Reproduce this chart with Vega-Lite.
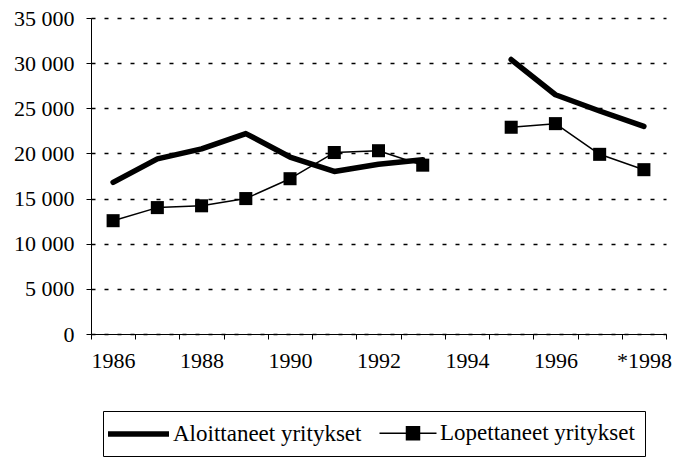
{
  "$schema": "https://vega.github.io/schema/vega-lite/v6.json",
  "width": 575,
  "height": 316,
  "autosize": "none",
  "padding": {"left": 91, "top": 18, "right": 7, "bottom": 125},
  "background": "white",
  "config": {
    "font": "Liberation Serif",
    "view": {"stroke": null},
    "axis": {"labelFont": "Liberation Serif", "labelFontSize": 22, "labelColor": "black", "domainColor": "black", "tickColor": "black", "titleFontSize": 0}
  },
  "data": {
    "values": [
      {"year": "1986", "series": "Aloittaneet yritykset", "value": 16800},
      {"year": "1987", "series": "Aloittaneet yritykset", "value": 19400},
      {"year": "1988", "series": "Aloittaneet yritykset", "value": 20500},
      {"year": "1989", "series": "Aloittaneet yritykset", "value": 22200},
      {"year": "1990", "series": "Aloittaneet yritykset", "value": 19600},
      {"year": "1991", "series": "Aloittaneet yritykset", "value": 18000},
      {"year": "1992", "series": "Aloittaneet yritykset", "value": 18800},
      {"year": "1993", "series": "Aloittaneet yritykset", "value": 19300},
      {"year": "1994", "series": "Aloittaneet yritykset", "value": null},
      {"year": "1995", "series": "Aloittaneet yritykset", "value": 30400},
      {"year": "1996", "series": "Aloittaneet yritykset", "value": 26500},
      {"year": "1997", "series": "Aloittaneet yritykset", "value": 24700},
      {"year": "1998", "series": "Aloittaneet yritykset", "value": 23000},
      {"year": "1986", "series": "Lopettaneet yritykset", "value": 12550},
      {"year": "1987", "series": "Lopettaneet yritykset", "value": 14000},
      {"year": "1988", "series": "Lopettaneet yritykset", "value": 14200},
      {"year": "1989", "series": "Lopettaneet yritykset", "value": 15000},
      {"year": "1990", "series": "Lopettaneet yritykset", "value": 17200},
      {"year": "1991", "series": "Lopettaneet yritykset", "value": 20100},
      {"year": "1992", "series": "Lopettaneet yritykset", "value": 20300},
      {"year": "1993", "series": "Lopettaneet yritykset", "value": 18700},
      {"year": "1994", "series": "Lopettaneet yritykset", "value": null},
      {"year": "1995", "series": "Lopettaneet yritykset", "value": 22900},
      {"year": "1996", "series": "Lopettaneet yritykset", "value": 23300},
      {"year": "1997", "series": "Lopettaneet yritykset", "value": 19900},
      {"year": "1998", "series": "Lopettaneet yritykset", "value": 18200}
    ]
  },
  "encoding": {
    "x": {
      "field": "year",
      "type": "ordinal",
      "scale": {"type": "band", "paddingInner": 0, "paddingOuter": 0, "domain": ["1986","1987","1988","1989","1990","1991","1992","1993","1994","1995","1996","1997","1998"]},
      "axis": {
        "title": null,
        "labelAngle": 0,
        "tickBand": "extent",
        "tickSize": 5,
        "labelPadding": 11,
        "labelExpr": "toNumber(datum.value) % 2 == 0 ? (datum.value == '1998' ? '*1998' : datum.value) : ''"
      }
    },
    "y": {
      "field": "value",
      "type": "quantitative",
      "scale": {"domain": [0, 35000], "nice": false},
      "axis": {
        "title": null,
        "values": [0, 5000, 10000, 15000, 20000, 25000, 30000, 35000],
        "labelExpr": "replace(format(datum.value, ','), ',', ' ')",
        "tickSize": 5,
        "labelPadding": 12,
        "grid": true,
        "gridColor": "black",
        "gridDash": [4, 9],
        "gridWidth": 1.3,
        "gridOpacity": 1
      }
    }
  },
  "layer": [
    {
      "mark": {"type": "line", "strokeCap": "round", "strokeJoin": "round"},
      "encoding": {
        "color": {
          "field": "series",
          "type": "nominal",
          "scale": {"domain": ["Aloittaneet yritykset", "Lopettaneet yritykset"], "range": ["black", "black"]},
          "legend": {
            "title": null,
            "orient": "none",
            "legendX": 12,
            "legendY": 393,
            "direction": "horizontal",
            "strokeColor": "black",
            "padding": 10,
            "symbolSize": 400,
            "labelFontSize": 23,
            "labelFont": "Liberation Serif",
            "labelColor": "black",
            "labelOffset": 34,
            "columnPadding": 14,
            "labelLimit": 400,
            "encode": {
              "symbols": {
                "update": {
                  "shape": {"signal": "datum.value == 'Aloittaneet yritykset' ? 'M-1.8,0H4.3' : 'M-1.5,0H4.2M1.2,-0.65H2.5V0.65H1.2Z'"},
                  "strokeWidth": {"signal": "datum.value == 'Aloittaneet yritykset' ? 5.5 : 1.5"},
                  "stroke": {"value": "black"},
                  "fill": {"value": "black"},
                  "opacity": {"value": 1}
                }
              }
            }
          }
        },
        "strokeWidth": {
          "field": "series",
          "type": "nominal",
          "scale": {"domain": ["Aloittaneet yritykset", "Lopettaneet yritykset"], "range": [5.5, 1.5]},
          "legend": null
        }
      }
    },
    {
      "transform": [{"filter": "datum.series == 'Lopettaneet yritykset' && datum.value != null"}],
      "mark": {"type": "point", "shape": "square", "filled": true, "color": "black", "size": 170, "opacity": 1}
    }
  ]
}
